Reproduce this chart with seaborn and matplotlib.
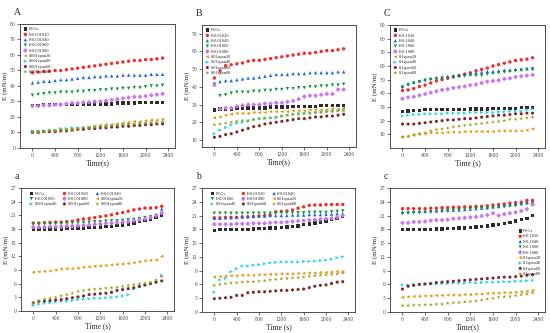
import numpy as np
import pandas as pd
import matplotlib
matplotlib.use("Agg")
import matplotlib.pyplot as plt
import seaborn as sns

sns.set_style("ticks")
plt.rcParams['font.family'] = ['Liberation Serif', 'DejaVu Serif']

time_s = list(range(0, 2400, 100))

# ---- panel A (0.001) ----
A_labels = ['FVGs', 'E-0.001S20', 'E-0.001S40', 'E-0.001S60', 'E-0.001S80',
            '0.001span20', '0.001span40', '0.001span60', '0.001span80']
A_fvgs = [27.5, 27.5, 28, 28, 28, 28, 28, 28, 28, 28.5, 28.5, 28.5, 28.5, 28.5, 28.5, 29, 29, 29, 29, 29.5, 29.5, 29.5, 29.5, 29.5]
A_s20 = [48.5, 49, 49.5, 49.5, 50, 50, 50.5, 51, 51.5, 52, 52.5, 53, 53.5, 54, 54.5, 55, 55.5, 56, 56.5, 56.5, 57, 57, 57.5, 58]
A_s40 = [42, 42.5, 43, 43, 43.5, 44, 44, 44.5, 45, 45.5, 45.5, 46, 46, 46.5, 46.5, 46.5, 47, 47, 47, 47, 47, 47.5, 47.5, 47.5]
A_s60 = [34, 34.5, 35, 35.5, 35.5, 36, 36, 36, 36.5, 36.5, 37, 37, 37.5, 37.5, 38, 38, 38.5, 38.5, 39, 39, 39.5, 40, 40, 40.5]
A_s80 = [27, 27, 27.5, 27.5, 28, 28, 28.5, 29, 29, 29.5, 29.5, 30, 30, 30.5, 31, 31.5, 32, 32.5, 33, 33, 33.5, 34, 34.5, 35]
A_sp20 = [10.5, 10.5, 10.5, 11, 11, 11.5, 12, 12, 12.5, 13, 13.5, 14, 14.5, 15, 15, 15.5, 16, 16.5, 17, 17, 17.5, 18, 18, 18.5]
A_sp40 = [11, 11, 11, 11.5, 11.5, 12.5, 12.5, 13, 13, 13, 13.5, 13.5, 14, 14, 14.5, 14.5, 15, 15, 15, 15.5, 15.5, 16, 16, 16]
A_sp60 = [10, 10, 10.5, 10.5, 10.5, 11, 11, 11.5, 12, 12, 12.5, 12.5, 13, 13, 13.5, 13.5, 14, 14, 14.5, 14.5, 15, 15, 15.5, 15.5]
A_sp80 = [10, 10.5, 10.5, 11, 11, 11.5, 11.5, 12, 12.5, 13, 13, 13.5, 14, 14, 14.5, 15, 15, 15.5, 15.5, 16, 16, 16.5, 16.5, 17]

# ---- panel B (0.01) ----
B_labels = ['FVGs', 'E-0.01S20', 'E-0.01S40', 'E-0.01S60', 'E-0.01S80',
            '0.01span20', '0.01span40', '0.01span60', '0.01span80']
B_fvgs = [27, 27.5, 27.5, 27.5, 28, 28, 28, 28, 28, 28, 28.5, 28.5, 28.5, 28.5, 29, 29, 29, 29, 29, 29.5, 29.5, 29.5, 29.5, 29.5]
B_s20 = [45, 49, 52, 52.5, 53, 53.5, 54.5, 55, 55, 55.5, 56, 56.5, 57, 57.5, 58, 58.5, 59, 59, 59.5, 60, 60.5, 60.5, 61, 61.5]
B_s40 = [42, 43, 43.5, 43.5, 44, 44.5, 45, 45, 45.5, 46, 46.5, 47, 47, 47, 47.5, 47.5, 47.5, 48, 48, 48, 48, 48, 48.5, 48.5]
B_s60 = [41.5, 35, 35.5, 36.5, 37, 37, 37, 37.5, 37.5, 38, 38, 38.5, 38.5, 39, 39, 39.5, 39.5, 40, 40, 40.5, 40.5, 41, 41, 41.5]
B_s80 = [41, 27.5, 28, 28, 29, 29.5, 30, 30, 30, 30.5, 30.5, 31, 31, 31.5, 32, 33, 34.5, 35, 35, 35.5, 36, 36, 38.5, 38.5]
B_sp20 = [22.5, 23, 24, 24.5, 25, 25, 25, 25.5, 25.5, 25.5, 26, 26, 26, 26, 26.5, 26.5, 26.5, 27, 27, 27, 27, 27.5, 27.5, 28]
B_sp40 = [13.5, 15.5, 17, 18.5, 19.5, 20, 20.5, 21.5, 22, 22, 22.5, 22.5, 23.5, 24, 24.5, 25, 25, 25.5, 25.5, 26, 26, 26.5, 26.5, 27]
B_sp60 = [11.5, 12, 13, 13.5, 14.5, 15.5, 16.5, 17.5, 18, 19, 19.5, 20, 20.5, 21, 21.5, 22, 22, 22.5, 23, 23, 23.5, 23.5, 24, 24.5]
B_sp80 = [18.5, 19, 19.5, 20, 20.5, 21, 21, 21.5, 22, 22.5, 22.5, 23, 23.5, 24, 24.5, 24.5, 25, 25, 25.5, 25.5, 26, 26, 26.5, 26.5]

# ---- panel C (0.1) ----
C_labels = ['FVGs', 'E-0.1S20', 'E-0.1S40', 'E-0.1S60', 'E-0.1S80',
            '0.1span20', '0.1span40', '0.1span60', '0.1span80']
C_fvgs = [26.5, 27, 27.5, 27.5, 28, 28, 28, 28, 28, 28, 28, 28, 28.5, 28.5, 28.5, 28.5, 29, 29, 29, 29, 29, 29.5, 29.5, 29.5]
C_s20 = [42, 42.5, 43.5, 45, 46, 47.5, 49, 50, 51, 52, 53, 54, 55, 56.5, 57.5, 58.5, 60, 61, 62, 63, 64, 64.5, 65, 66]
C_s40 = [45, 47, 48, 49, 50, 51, 51.5, 52, 52.5, 53, 53.5, 54, 54.5, 55, 55.5, 56, 56, 56.5, 57, 57, 57.5, 57.5, 58, 58]
C_s60 = [44.5, 46, 47.5, 48.5, 49.5, 50, 50.5, 51, 51, 51.5, 52, 52.5, 53, 53, 53, 54, 54.5, 55, 55.5, 56, 56.5, 57, 57.5, 58]
C_s80 = [36, 37, 37.5, 38.5, 39.5, 40.5, 41.5, 42.5, 43, 44, 44.5, 45, 46, 46.5, 47.5, 48.5, 49, 49.5, 50.5, 51, 52, 52.5, 53, 53.5]
C_sp20 = [8, 8.5, 9.5, 10, 10.5, 11, 11, 11, 11.5, 11.5, 11.5, 12, 12, 12, 12, 12, 12, 12.5, 12.5, 12.5, 12.5, 12.5, 13, 14]
C_sp40 = [23.5, 24, 24.5, 24.5, 25, 25, 25, 25, 25.5, 25.5, 25.5, 25.5, 26, 26, 26, 26, 26, 26.5, 26.5, 27, 27, 27, 28, 28.5]
C_sp60 = [17.5, 17.5, 17.5, 18, 18.5, 19, 19.5, 20, 20.5, 20.5, 21, 21.5, 21.5, 22, 22.5, 23, 23.5, 24, 24, 24.5, 25, 25, 25.5, 25.5]
C_sp80 = [8, 8.5, 9.5, 10.5, 11, 12.5, 13.5, 14, 14.5, 15.5, 16, 16.5, 17, 17.5, 18, 18.5, 19, 19.5, 20, 21, 21, 21.5, 22, 22.5]

# ---- panel a (0.001) ----
a_fvgs = [17.9, 17.9, 18, 18, 18, 18, 18.1, 18.1, 18.2, 18.2, 18.3, 18.3, 18.4, 18.5, 18.6, 18.7, 18.9, 19.1, 19.3, 19.6, 19.9, 20.2, 20.5, 21]
a_s20 = [19.3, 19.3, 19.4, 19.4, 19.5, 19.5, 19.6, 19.7, 20, 20.2, 20.3, 20.5, 20.7, 20.9, 21.1, 21.4, 21.6, 21.9, 22.2, 22.4, 22.6, 22.6, 22.7, 23]
a_s40 = [18.5, 18.5, 18.6, 18.6, 18.7, 18.7, 18.8, 18.9, 19, 19.1, 19.2, 19.3, 19.4, 19.5, 19.6, 19.7, 19.8, 19.9, 20.1, 20.3, 20.5, 20.7, 21, 22.4]
a_s60 = [19.1, 19.1, 19.1, 19.2, 19.2, 19.2, 19.3, 19.3, 19.4, 19.4, 19.5, 19.6, 19.6, 19.7, 19.8, 19.8, 19.9, 20, 20.1, 20.3, 20.5, 20.7, 21, 21.4]
a_s80 = [18.4, 18.4, 18.4, 18.5, 18.5, 18.5, 18.6, 18.6, 18.7, 18.8, 18.9, 19, 19.1, 19.2, 19.3, 19.4, 19.5, 19.6, 19.8, 20, 20.2, 20.5, 20.9, 21.5]
a_sp20 = [8.5, 8.6, 8.7, 8.8, 9, 9.2, 9.3, 9.3, 9.4, 9.6, 9.7, 9.8, 9.9, 10, 10.1, 10.2, 10.3, 10.4, 10.6, 10.8, 11, 11.1, 11.2, 12]
a_sp40 = [1.2, 1.5, 1.7, 1.8, 2, 2.1, 2.2, 2.3, 2.5, 2.6, 2.7, 2.8, 2.8, 2.9, 3, 3.1, 3.3, 3.6, 4.8, 5.3, 5.7, 6, 6.5, 7.8]
a_sp60 = [1.8, 2.1, 2.2, 2.3, 2.4, 2.5, 2.7, 2.9, 3.1, 3.3, 3.6, 3.7, 3.8, 3.9, 4.1, 4.5, 4.7, 4.9, 5.1, 5.4, 5.7, 6, 6.3, 6.6]
a_sp80 = [1.7, 2.3, 2.6, 2.8, 3, 3.3, 3.6, 3.9, 4.3, 4.5, 4.7, 4.8, 4.9, 5, 5.1, 5.2, 5.4, 5.6, 5.8, 6, 6.1, 6.3, 6.8, 7.6]

# ---- panel b (0.01) ----
b_fvgs = [17.8, 17.9, 17.9, 17.9, 18, 18, 18, 18.1, 18.2, 18.2, 18.3, 18.3, 18.4, 18.5, 18.6, 18.7, 19, 19.2, 19.4, 19.6, 19.8, 20.1, 20.3, 20.8]
b_s20 = [20.5, 20.5, 20.6, 20.6, 20.6, 20.7, 20.7, 20.8, 20.9, 21, 21.1, 21.8, 21.9, 22, 22.2, 22.6, 22.9, 23.2, 23.3, 23.3, 23.4, 23.4, 23.4, 23.4]
b_s40 = [20.4, 20.4, 20.5, 20.5, 20.6, 20.7, 20.8, 20.8, 20.9, 20.9, 21, 21, 21, 21, 21.1, 21.1, 21.1, 21.2, 21.2, 21.2, 21.3, 21.3, 21.4, 21.4]
b_s60 = [21.5, 21.5, 21.5, 21.5, 21.5, 21.5, 21.5, 21.5, 21.5, 21.5, 21.5, 21.5, 21.6, 21.6, 21.6, 21.6, 21.6, 21.7, 21.7, 21.7, 21.7, 21.8, 21.9, 22]
b_s80 = [19.1, 19.1, 19.1, 19.1, 19.2, 19.2, 19.2, 19.3, 19.3, 19.3, 19.4, 19.5, 19.5, 19.6, 19.7, 19.8, 19.9, 20, 20.1, 20.2, 20.3, 20.4, 20.6, 21]
b_sp20 = [7.6, 7.7, 7.8, 7.9, 7.9, 8, 8, 8, 8.1, 8.1, 8.2, 8.2, 8.3, 8.3, 8.3, 8.4, 8.4, 8.5, 8.5, 8.6, 8.6, 8.7, 8.8, 8.8]
b_sp40 = [4.3, 7, 7.3, 8.8, 9.4, 10, 10, 10.2, 10.3, 10.5, 10.7, 10.8, 10.9, 10.9, 10.9, 10.9, 11, 11, 11.1, 11.2, 11.3, 11.5, 11.8, 12]
b_sp60 = [2.9, 3, 3.1, 3.2, 3.6, 3.6, 4.2, 4.3, 4.4, 4.4, 4.5, 4.6, 4.7, 4.7, 4.8, 4.9, 5, 5.3, 5.6, 5.8, 5.9, 6.2, 6.5, 6.6]
b_sp80 = [5.8, 6, 6.2, 6.3, 6.4, 6.5, 6.6, 6.6, 6.7, 6.8, 7, 7.1, 7.2, 7.3, 7.4, 7.5, 7.6, 7.8, 7.9, 8, 8.1, 8.2, 8.3, 8.5]

# ---- panel c (0.1) ----
c_fvgs = [17.9, 17.9, 18, 18, 18, 18, 18.1, 18.1, 18.2, 18.2, 18.3, 18.3, 18.4, 18.5, 18.6, 18.7, 18.9, 19.1, 19.3, 19.5, 19.8, 20.1, 20.4, 21]
c_s20 = [22.5, 22.5, 22.5, 22.5, 22.5, 22.6, 22.6, 22.7, 22.7, 22.8, 22.8, 22.9, 22.9, 23, 23, 23.1, 23.3, 23.4, 23.5, 23.7, 23.8, 23.9, 24.3, 24.3]
c_s40 = [21.8, 21.8, 21.9, 21.9, 21.9, 22, 22, 22.1, 22.1, 22.2, 22.2, 22.3, 22.4, 22.5, 22.6, 22.7, 22.9, 23, 23.2, 23.4, 23.5, 23.7, 23.9, 24]
c_s60 = [21.4, 21.5, 21.6, 21.6, 21.7, 21.8, 21.9, 22, 22.1, 22.2, 22.3, 22.4, 22.5, 22.5, 22.6, 22.6, 22.7, 22.8, 22.9, 23, 23.1, 23.3, 23.5, 23.6]
c_s80 = [19.4, 19.4, 19.6, 19.6, 19.7, 19.9, 20, 20, 20.1, 20.3, 20.4, 20.5, 20.6, 20.7, 20.9, 21.1, 21.5, 21, 21.3, 21.5, 21.7, 22, 22.4, 23.4]
c_sp20 = [3.2, 3.3, 3.4, 3.4, 3.5, 3.5, 3.6, 3.6, 3.7, 3.7, 3.7, 3.8, 3.8, 3.9, 3.9, 4, 4.1, 4.1, 4.2, 4.2, 4.3, 4.4, 4.5, 4.7]
c_sp40 = [5.9, 5.9, 6, 6, 6, 6.1, 6.1, 6.2, 6.2, 6.3, 6.3, 6.3, 6.4, 6.4, 6.4, 6.5, 6.5, 6.5, 6.6, 6.6, 6.7, 6.7, 6.8, 6.9]
c_sp60 = [5, 5.6, 5.8, 6, 6.1, 6.2, 6.4, 6.5, 6.6, 6.7, 6.8, 6.9, 7, 7.1, 7.2, 7.3, 7.4, 7.5, 7.6, 7.6, 7.7, 7.8, 8, 8.1]
c_sp80 = [1.4, 1.4, 1.5, 1.5, 1.6, 1.6, 1.7, 1.7, 1.9, 2, 2.1, 2.2, 2.3, 2.4, 2.6, 2.8, 3, 3.2, 3.3, 3.4, 3.6, 3.8, 3.9, 4.2]

markers = ['s', 'o', '^', 'v', 'D', '<', '>', 'h', '*']
colors = ['#2b2b2b', '#f52a2a', '#1f66e0', '#12953c', '#c878ec',
          '#e3990f', '#1fd6e0', '#7b2828', '#9e9e1a']
xticks = [0, 400, 800, 1200, 1600, 2000, 2400]


def draw_panel(ax, series, labels, ylim, yticks, xlabel, letter, legend_mode):
    for i, vals in enumerate(series):
        sizes = 9 if markers[i] == '*' else 6
        sns.scatterplot(x=time_s, y=vals, ax=ax, marker=markers[i], color=colors[i],
                        s=sizes, edgecolor='none', linewidth=0, label=labels[i], zorder=3)
    ax.set_xlim(-220, 2520)
    ax.set_ylim(*ylim)
    ax.set_xticks(xticks)
    ax.set_yticks(yticks)
    ax.tick_params(axis='both', labelsize=4, length=2, width=0.5, pad=1.5,
                   direction='out', colors='#333333', labelcolor='#444444')
    for sp in ax.spines.values():
        sp.set_linewidth(0.6)
        sp.set_color('#333333')
    ax.set_xlabel(xlabel, fontsize=5.5, labelpad=1)
    ax.set_ylabel('E (mN/m)', fontsize=5, labelpad=1)
    ax.text(-0.04, 1.06, letter, transform=ax.transAxes, fontsize=7, ha='left', va='bottom')

    handles, labs = ax.get_legend_handles_labels()
    if legend_mode == 'left':
        ax.legend(handles, labs, loc='upper left', fontsize=3.2, frameon=False,
                  handletextpad=0.2, labelspacing=0.28, borderaxespad=0.3,
                  handlelength=1.0, markerscale=1.0)
    elif legend_mode == 'grid':
        order = [0, 3, 6, 1, 4, 7, 2, 5, 8]
        ax.legend([handles[k] for k in order], [labs[k] for k in order],
                  loc='upper left', ncol=3, fontsize=3.2, frameon=False,
                  handletextpad=0.2, labelspacing=0.25, columnspacing=1.2,
                  borderaxespad=0.4, handlelength=1.0, bbox_to_anchor=(0.03, 1.0))
    else:
        ax.legend(handles, labs, loc='center right', fontsize=3.2, frameon=False,
                  handletextpad=0.2, labelspacing=0.28, borderaxespad=0.4,
                  handlelength=1.0, bbox_to_anchor=(1.0, 0.48))


fig = plt.figure(figsize=(5.5, 3.33), dpi=100)

axA = fig.add_axes([0.0364, 0.5556, 0.2818, 0.3724])
axB = fig.add_axes([0.3673, 0.5586, 0.2800, 0.3664])
axC = fig.add_axes([0.7091, 0.5556, 0.2818, 0.3694])
axa = fig.add_axes([0.0382, 0.0661, 0.2782, 0.3694])
axb = fig.add_axes([0.3673, 0.0631, 0.2782, 0.3724])
axc = fig.add_axes([0.7091, 0.0631, 0.2818, 0.3724])

draw_panel(axA, [A_fvgs, A_s20, A_s40, A_s60, A_s80, A_sp20, A_sp40, A_sp60, A_sp80],
           A_labels, (0, 80), list(range(0, 81, 10)), 'Time(s)', 'A', 'left')
draw_panel(axB, [B_fvgs, B_s20, B_s40, B_s60, B_s80, B_sp20, B_sp40, B_sp60, B_sp80],
           B_labels, (6, 75), list(range(10, 71, 10)), 'Time(s)', 'B', 'left')
draw_panel(axC, [C_fvgs, C_s20, C_s40, C_s60, C_s80, C_sp20, C_sp40, C_sp60, C_sp80],
           C_labels, (0, 90), list(range(10, 91, 10)), 'Time (s)', 'C', 'left')
draw_panel(axa, [a_fvgs, a_s20, a_s40, a_s60, a_s80, a_sp20, a_sp40, a_sp60, a_sp80],
           A_labels, (0, 27), list(range(0, 28, 3)), 'Time (s)', 'a', 'grid')
draw_panel(axb, [b_fvgs, b_s20, b_s40, b_s60, b_s80, b_sp20, b_sp40, b_sp60, b_sp80],
           B_labels, (0, 27), list(range(0, 28, 3)), 'Time (s)', 'b', 'grid')
draw_panel(axc, [c_fvgs, c_s20, c_s40, c_s60, c_s80, c_sp20, c_sp40, c_sp60, c_sp80],
           C_labels, (0, 27), list(range(0, 28, 3)), 'Time(s)', 'c', 'right')

fig.savefig('out.png', dpi=100)
